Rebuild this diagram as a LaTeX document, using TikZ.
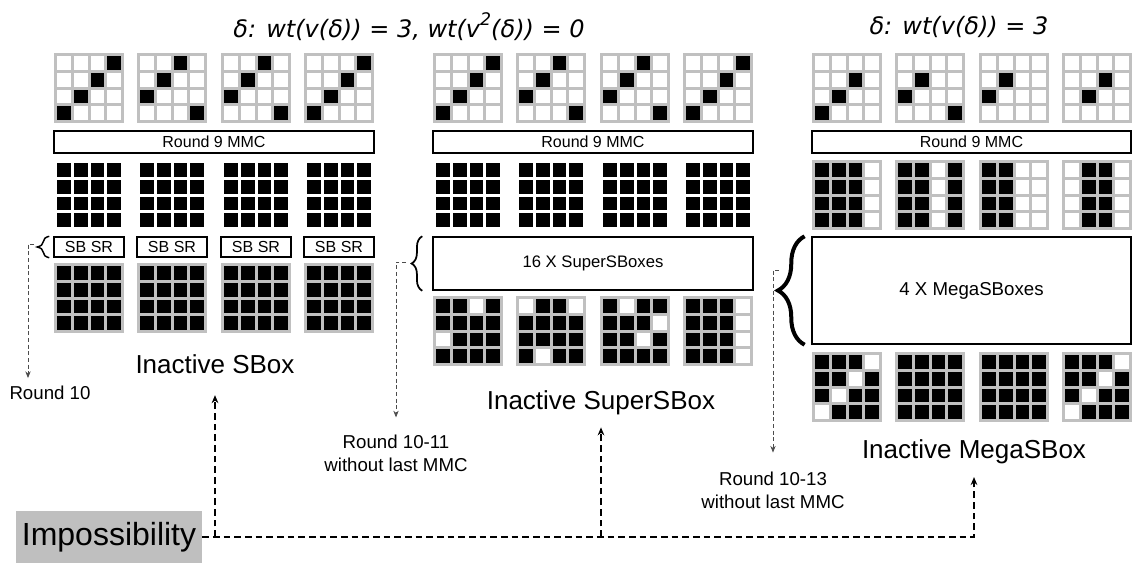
\documentclass[tikz,border=0pt]{standalone}
\usepackage{fontspec}
\setmainfont{Liberation Sans}
\newfontfamily\titlefont{DejaVu Sans}
\usetikzlibrary{arrows.meta,decorations.pathreplacing}

\definecolor{gridgray}{RGB}{192,192,192}
\definecolor{impgray}{RGB}{191,191,191}

\newcommand{\sgrid}[4][gridgray]{%
  \edef\gridcells{#4}%
  \begin{scope}[shift={(#2+1.5,#3+1.5)}]
    \foreach \k in {0,...,15}
      \filldraw[fill=white, draw=#1, line width=2.25pt]
        ({mod(\k,4)*16.75},{div(\k,4)*16.75}) rectangle ++(16.75,16.75);
    \foreach \k in \gridcells
      \filldraw[fill=black, draw=#1, line width=2.25pt]
        ({mod(\k,4)*16.75},{div(\k,4)*16.75}) rectangle ++(16.75,16.75);
  \end{scope}}

\tikzset{
  titletext/.style={font=\titlefont\itshape\fontsize{18}{22}\selectfont},
  mmcbox/.style={draw, line width=1.1pt, inner sep=0pt, font=\fontsize{12}{14}\selectfont},
  sbsrbox/.style={mmcbox, minimum width=52.5pt, minimum height=15pt},
  inactive/.style={inner sep=2pt, font=\fontsize{19.5}{23}\selectfont},
  roundlbl/.style={inner sep=2pt, align=center, font=\fontsize{14}{17.5}\selectfont},
  bracedeco/.style={decorate, decoration={brace, amplitude=#1}},
  roundarrow/.style={densely dashed, draw=black!70, line width=0.6pt, -{Stealth[length=5pt,width=4pt]}},
  impline/.style={dash pattern=on 5pt off 3pt, line width=1.1pt, -{Stealth[length=6pt,width=5pt]}},
}

\begin{document}
\begin{tikzpicture}[x=0.75pt,y=-0.75pt]
  \useasboundingbox (0,0) rectangle (1132,565);

  \node[titletext] (titleA) at (409,27) {δ: wt(v(δ)) = 3, wt(v\raisebox{0.5em}{\fontsize{13}{13}\selectfont 2}(δ)) = 0};
  \node[titletext] (titleB) at (959,27) {δ: wt(v(δ)) = 3};

  \sgrid{54}{53}{3,6,9,12}
  \sgrid{137}{53}{2,5,8,15}
  \sgrid{221}{53}{2,5,8,15}
  \sgrid{304}{53}{3,6,9,12}
  \sgrid{433}{53}{3,6,9,12}
  \sgrid{516}{53}{2,5,8,15}
  \sgrid{600}{53}{2,5,8,15}
  \sgrid{683}{53}{3,6,9,12}
  \sgrid{812}{53}{6,9,12}
  \sgrid{895}{53}{5,8,15}
  \sgrid{979}{53}{5,8}
  \sgrid{1062}{53}{6,9}

  \node[mmcbox, minimum width=240pt, minimum height=16.5pt] (mmcA) at (214,142) {Round 9 MMC};
  \node[mmcbox, minimum width=240pt, minimum height=16.5pt] (mmcB) at (593,142) {Round 9 MMC};
  \node[mmcbox, minimum width=239.25pt, minimum height=16.5pt] (mmcC) at (971.5,142) {Round 9 MMC};

  \sgrid[white]{54}{160}{0,...,15}
  \sgrid[white]{137}{160}{0,...,15}
  \sgrid[white]{221}{160}{0,...,15}
  \sgrid[white]{304}{160}{0,...,15}
  \sgrid[white]{433}{160}{0,...,15}
  \sgrid[white]{516}{160}{0,...,15}
  \sgrid[white]{600}{160}{0,...,15}
  \sgrid[white]{683}{160}{0,...,15}
  \sgrid{812}{160}{0,1,2,4,5,6,8,9,10,12,13,14}
  \sgrid{895}{160}{0,1,3,4,5,7,8,9,11,12,13,15}
  \sgrid{979}{160}{0,1,4,5,8,9,12,13}
  \sgrid{1062}{160}{1,2,5,6,9,10,13,14}

  \node[sbsrbox] (sbsr1) at (89,247) {SB SR};
  \node[sbsrbox] (sbsr2) at (172,247) {SB SR};
  \node[sbsrbox] (sbsr3) at (256,247) {SB SR};
  \node[sbsrbox] (sbsr4) at (339,247) {SB SR};
  \node[mmcbox, minimum width=240pt, minimum height=39.75pt, font=\fontsize{12.5}{15}\selectfont] (superbox) at (593,263.5) {16 X SuperSBoxes};
  \node[mmcbox, minimum width=239.25pt, minimum height=80.25pt, font=\fontsize{14}{17}\selectfont] (megabox) at (971.5,290.5) {4 X MegaSBoxes};

  \draw[bracedeco=9pt, line width=1.1pt] ([xshift=-3pt]sbsr1.south west) -- ([xshift=-3pt]sbsr1.north west);
  \draw[bracedeco=8pt, line width=1.3pt] ([xshift=-7.5pt]superbox.south west) -- ([xshift=-7.5pt]superbox.north west);
  \draw[bracedeco=20pt, line width=3pt] ([xshift=-5pt]megabox.south west) -- ([xshift=-5pt]megabox.north west);

  \sgrid{54}{263}{0,...,15}
  \sgrid{137}{263}{0,...,15}
  \sgrid{221}{263}{0,...,15}
  \sgrid{304}{263}{0,...,15}
  \sgrid{433}{296}{0,1,3,4,5,6,7,9,10,11,12,13,14,15}
  \sgrid{516}{296}{1,2,4,5,6,7,8,9,10,11,12,14,15}
  \sgrid{600}{296}{0,2,3,4,5,6,8,9,11,12,13,14,15}
  \sgrid{683}{296}{0,1,2,4,5,6,8,9,10,12,13,14}
  \sgrid{812}{352}{0,1,2,4,5,7,8,10,11,13,14,15}
  \sgrid{895}{352}{0,...,15}
  \sgrid{979}{352}{0,...,15}
  \sgrid{1062}{352}{0,1,2,4,5,7,8,10,11,13,14,15}

  \node[inactive] (sboxlbl) at (215,364) {Inactive SBox};
  \node[inactive] (superlbl) at (601,403) {Inactive SuperSBox};
  \node[inactive] (megalbl) at (974,452) {Inactive MegaSBox};

  \node[roundlbl] (r10) at (50,393) {Round 10};
  \node[roundlbl] (r11) at (396,453.5) {Round 10-11\\without last MMC};
  \node[roundlbl] (r13) at (773,490) {Round 10-13\\without last MMC};

  \coordinate (d1) at (34,244);
  \coordinate (d1end) at (28,378);
  \coordinate (d2) at (406,262);
  \coordinate (d3) at (779,270);
  \draw[roundarrow] (d1) -| (d1end);
  \draw[roundarrow, shorten >=11pt] (d2) -| (r11.north);
  \draw[roundarrow, shorten >=12pt] (d3) -| (r13.north);

  \node[fill=impgray, minimum width=139.5pt, minimum height=39pt, inner sep=0pt, font=\fontsize{24}{28}\selectfont] (imp) at (109,537) {Impossibility};

  \draw[impline, shorten >=7.5pt] (imp.east) -| (megalbl.south);
  \draw[impline, shorten >=14pt] (imp.east -| sboxlbl.south) -- (sboxlbl.south);
  \draw[impline, shorten >=7pt] (imp.east -| superlbl.south) -- (superlbl.south);
\end{tikzpicture}
\end{document}
